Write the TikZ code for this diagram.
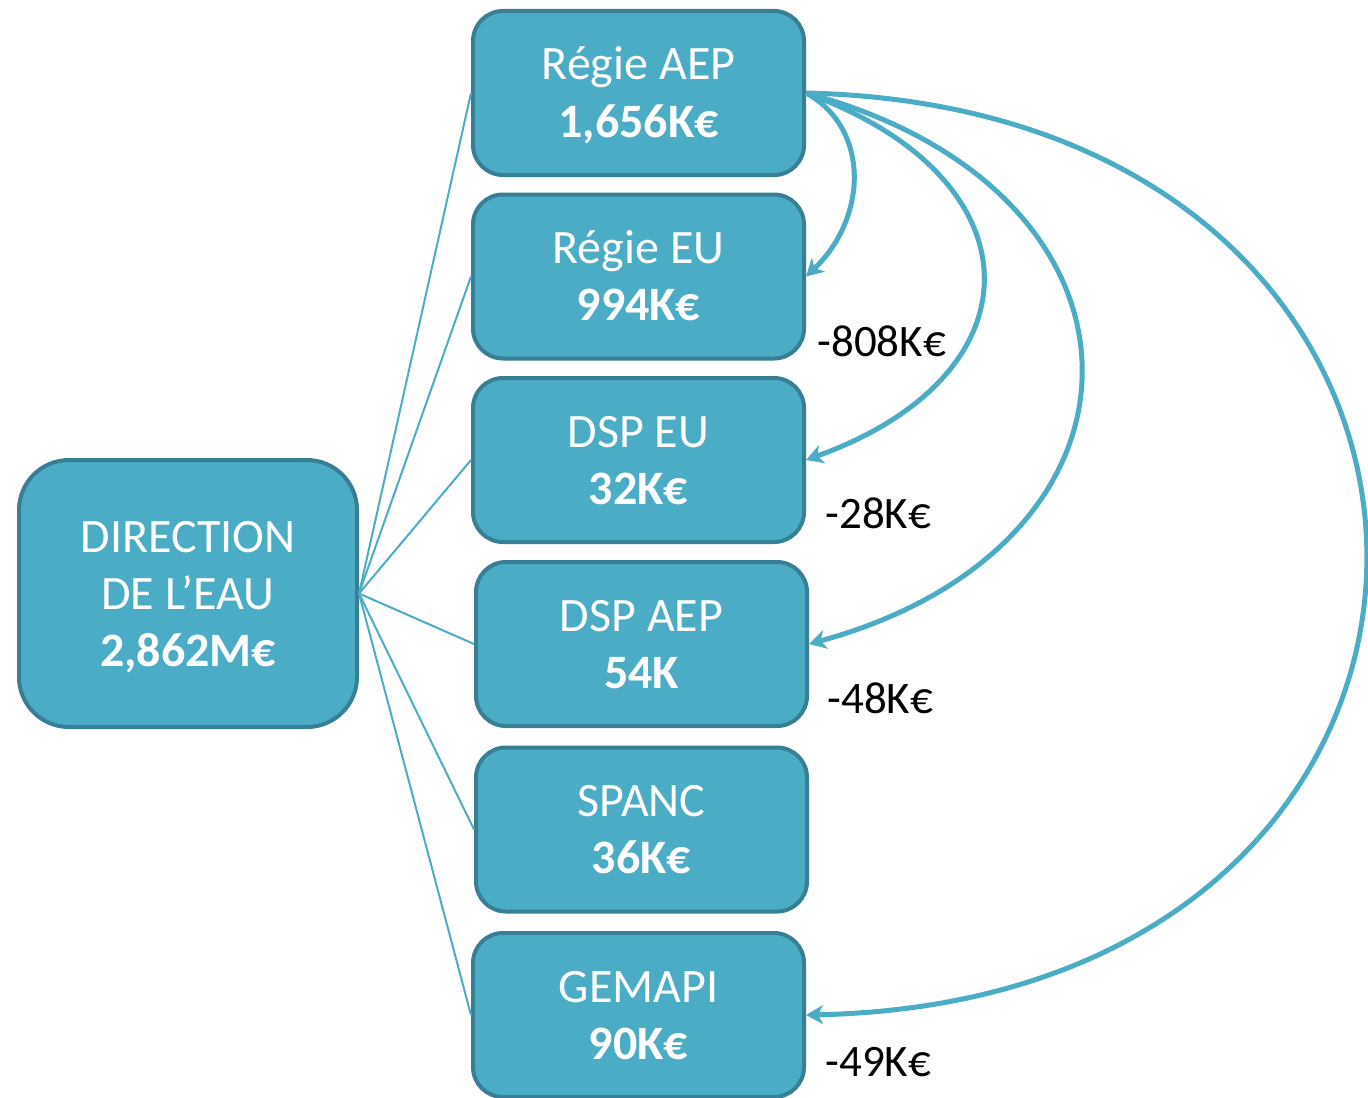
\documentclass[tikz,border=0pt]{standalone}
\usepackage{fontspec}
\setmainfont{Carlito}
\usetikzlibrary{arrows.meta}
\definecolor{boxfill}{HTML}{4BACC6}
\definecolor{boxline}{HTML}{377F94}
\definecolor{linkcol}{HTML}{4BACC6}
\newcommand{\tstrut}{\rule{0pt}{20pt}}
\newcommand{\bstrut}{\rule[-4.5pt]{0pt}{4.5pt}}
\begin{document}
\begin{tikzpicture}[x=0.5pt,y=-0.5pt,
  unitbox/.style={draw=boxline, fill=boxfill, line width=2pt, rounded corners=15pt,
    minimum width=165.5pt, minimum height=82pt, text=white, align=center,
    font=\fontsize{24}{28.5}\selectfont, inner sep=0pt},
  mainbox/.style={unitbox, rounded corners=25pt, minimum width=169pt, minimum height=133.5pt},
  link/.style={draw=linkcol, line width=1pt},
  flow/.style={draw=linkcol, line width=2.5pt, -{Stealth[length=8.5pt,width=9.5pt,inset=2.5pt]}},
  lbl/.style={font=\fontsize{22.5}{27}\selectfont, text=black, inner sep=0pt, anchor=west}
]
\useasboundingbox (0,0) rectangle (1368,1097);

\node[mainbox] (dir) at (188,593.5) {\tstrut DIRECTION\\DE L’EAU\\\textbf{2,862M€}\bstrut};

\node[unitbox] (r1) at (638.5,93) {\tstrut Régie AEP\\\textbf{1,656K€}\bstrut};
\node[unitbox] (r2) at (638.5,276.5) {\tstrut Régie EU\\\textbf{994K€}\bstrut};
\node[unitbox] (r3) at (638.5,460) {\tstrut DSP EU\\\textbf{32K€}\bstrut};
\node[unitbox] (r4) at (641.5,644) {\tstrut DSP AEP\\\textbf{54K}\bstrut};
\node[unitbox] (r5) at (641.5,829.5) {\tstrut SPANC\\\textbf{36K€}\bstrut};
\node[unitbox] (r6) at (638.5,1015) {\tstrut GEMAPI\\\textbf{90K€}\bstrut};

\foreach \t in {r1,r2,r3,r4,r5,r6} \draw[link] (dir.east) -- (\t.west);

\draw[flow] (r1.east) .. controls +(64,35) and +(62,-59) .. (r2.east);
\draw[flow] (r1.east) .. controls +(235,85) and +(237,-85) .. (r3.east);
\draw[flow] (r1.east) .. controls +(366,98) and +(363,-99) .. (r4.east);
\draw[flow] (r1.east) .. controls +(746,17) and +(746,-15) .. (r6.east);

\node[lbl] (l1) at (817,341) {-808K€};
\node[lbl] (l2) at (825,513) {-28K€};
\node[lbl] (l3) at (827,698) {-48K€};
\node[lbl] (l4) at (825,1062) {-49K€};
\end{tikzpicture}
\end{document}
